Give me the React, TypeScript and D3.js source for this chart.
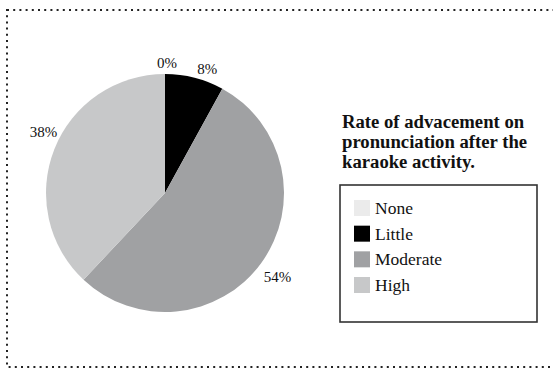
import React from "react";
import * as d3 from "d3";

const categories = ["None", "Little", "Moderate", "High"];
const values = [0, 8, 54, 38];
const colors = ["#ebebeb", "#000000", "#a0a1a3", "#c7c8c9"];
const titleLines = ["Rate of advacement on", "pronunciation after the", "karaoke activity."];
// small label nudges (px) to mimic the original label placement
const labelNudge: [number, number][] = [[2, 4], [9, 6], [4, 5], [3, -12]];

const W = 553;
const H = 368;
const cx = 165;
const cy = 193;
const R = 119;
const FONT = "'Liberation Serif', 'Times New Roman', serif";

export default function App() {
  const pie = d3.pie<number>().sort(null).value((d) => d);
  const arcs = pie(values);
  const arc = d3.arc<d3.PieArcDatum<number>>().innerRadius(0).outerRadius(R);
  const labelArc = d3.arc<d3.PieArcDatum<number>>().innerRadius(134).outerRadius(134);

  const legendY = d3.scalePoint<string>().domain(categories).range([208, 285]);

  return (
    <svg
      width={W}
      height={H}
      style={{ position: "absolute", left: 0, top: 0, background: "#fff" }}
      fontFamily={FONT}
    >
      <rect
        x={7}
        y={10}
        width={620}
        height={357}
        fill="none"
        stroke="#222"
        strokeWidth={2}
        strokeDasharray="2 4.2"
      />
      <g transform={`translate(${cx},${cy})`}>
        {arcs.map((a, i) => (
          <path key={categories[i]} d={arc(a) || ""} fill={colors[i]} />
        ))}
        {arcs.map((a, i) => {
          const [x, y] = labelArc.centroid(a);
          return (
            <text
              key={"l" + i}
              x={x + labelNudge[i][0]}
              y={y + labelNudge[i][1]}
              textAnchor="middle"
              dominantBaseline="central"
              fontSize={15}
              fill="#111"
            >
              {values[i]}%
            </text>
          );
        })}
      </g>
      {titleLines.map((t, i) => (
        <text key={t} x={342} y={128 + i * 20} fontSize={18.7} fontWeight="bold" fill="#111">
          {t}
        </text>
      ))}
      <rect x={340} y={185} width={197} height={137} fill="#fff" stroke="#333" strokeWidth={1.6} />
      {categories.map((c, i) => {
        const y = legendY(c)!;
        return (
          <g key={c}>
            <rect x={354} y={y - 8} width={16} height={16} fill={colors[i]} />
            <text x={375} y={y} dominantBaseline="central" fontSize={17.5} fill="#111">
              {c}
            </text>
          </g>
        );
      })}
    </svg>
  );
}
